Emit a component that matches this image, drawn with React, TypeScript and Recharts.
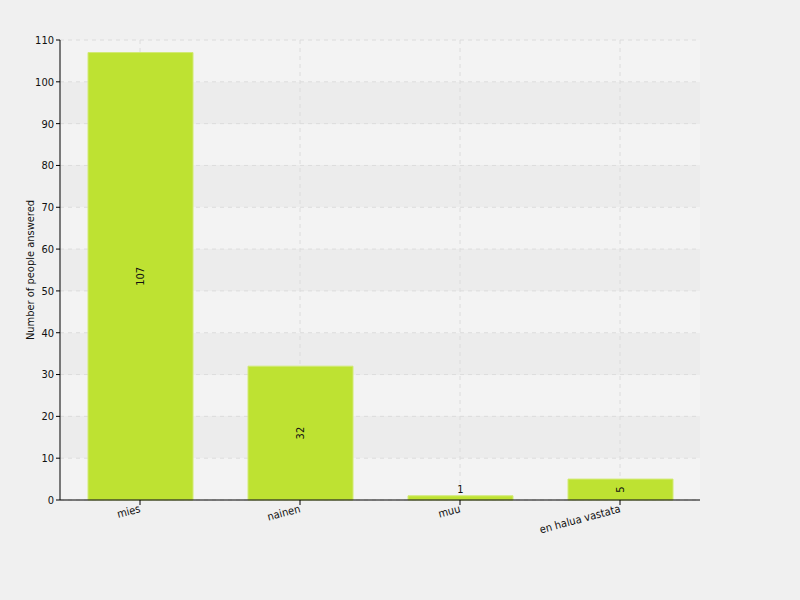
import React from "react";
import {
  BarChart,
  Bar,
  XAxis,
  YAxis,
  CartesianGrid,
  LabelList,
} from "recharts";

const categories = ["mies", "nainen", "muu", "en halua vastata"];
const answered = [107, 32, 1, 5];
const yTicks = [0, 10, 20, 30, 40, 50, 60, 70, 80, 90, 100, 110];

const data = categories.map((label, i) => ({ label, value: answered[i] }));

const textStyle = {
  fontFamily: "'DejaVu Sans Condensed', 'DejaVu Sans', sans-serif",
  fontStretch: "condensed",
  fontSize: 11,
};

function XTick(props: any) {
  const { x, y, payload } = props;
  return (
    <g transform={`translate(${x + 1},${y + 5})`}>
      <text textAnchor="end" transform="rotate(-15)" style={textStyle} fill="#111">
        {payload.value}
      </text>
    </g>
  );
}

function ValueLabel(props: any) {
  const { x, y, width, height, value } = props;
  const cx = x + width / 2;
  if (height < 12) {
    return (
      <text x={cx} y={y - 3} textAnchor="middle" style={textStyle} fill="#111">
        {value}
      </text>
    );
  }
  const cy = y + height / 2;
  return (
    <text
      x={cx}
      y={cy}
      textAnchor="middle"
      dominantBaseline="central"
      transform={`rotate(-90, ${cx}, ${cy})`}
      style={textStyle}
      fill="#111"
    >
      {value}
    </text>
  );
}

export default function App() {
  return (
    <div
      style={{
        position: "fixed",
        top: 0,
        left: 0,
        width: 800,
        height: 600,
        background: "#f0f0f0",
      }}
    >
      <BarChart
        width={800}
        height={600}
        data={data}
        margin={{ top: 40, right: 100, bottom: 0, left: 0 }}
        barCategoryGap={0}
      >
        <CartesianGrid
          stroke="#dcdcdc"
          strokeDasharray="4 4"
          horizontalFill={["#f3f3f3", "#ececec"]}
          fillOpacity={1}
          syncWithTicks
        />
        <XAxis
          dataKey="label"
          height={100}
          tick={<XTick />}
          tickSize={5}
          stroke="#000"
          tickLine={{ stroke: "#000" }}
          axisLine={{ stroke: "#000" }}
        />
        <YAxis
          width={60}
          domain={[0, 110]}
          ticks={yTicks}
          interval={0}
          tickSize={4}
          stroke="#000"
          tick={{ ...textStyle, fill: "#111" }}
          axisLine={{ stroke: "#000" }}
          tickLine={{ stroke: "#000" }}
          label={{
            value: "Number of people answered",
            angle: -90,
            position: "insideLeft",
            offset: 30,
            style: { ...textStyle, textAnchor: "middle", fill: "#111" },
          }}
        />
        <Bar
          dataKey="value"
          barSize={105}
          fill="#bee232"
          stroke="#d2ea74"
          strokeWidth={1}
          isAnimationActive={false}
        >
          <LabelList dataKey="value" content={<ValueLabel />} />
        </Bar>
      </BarChart>
    </div>
  );
}
